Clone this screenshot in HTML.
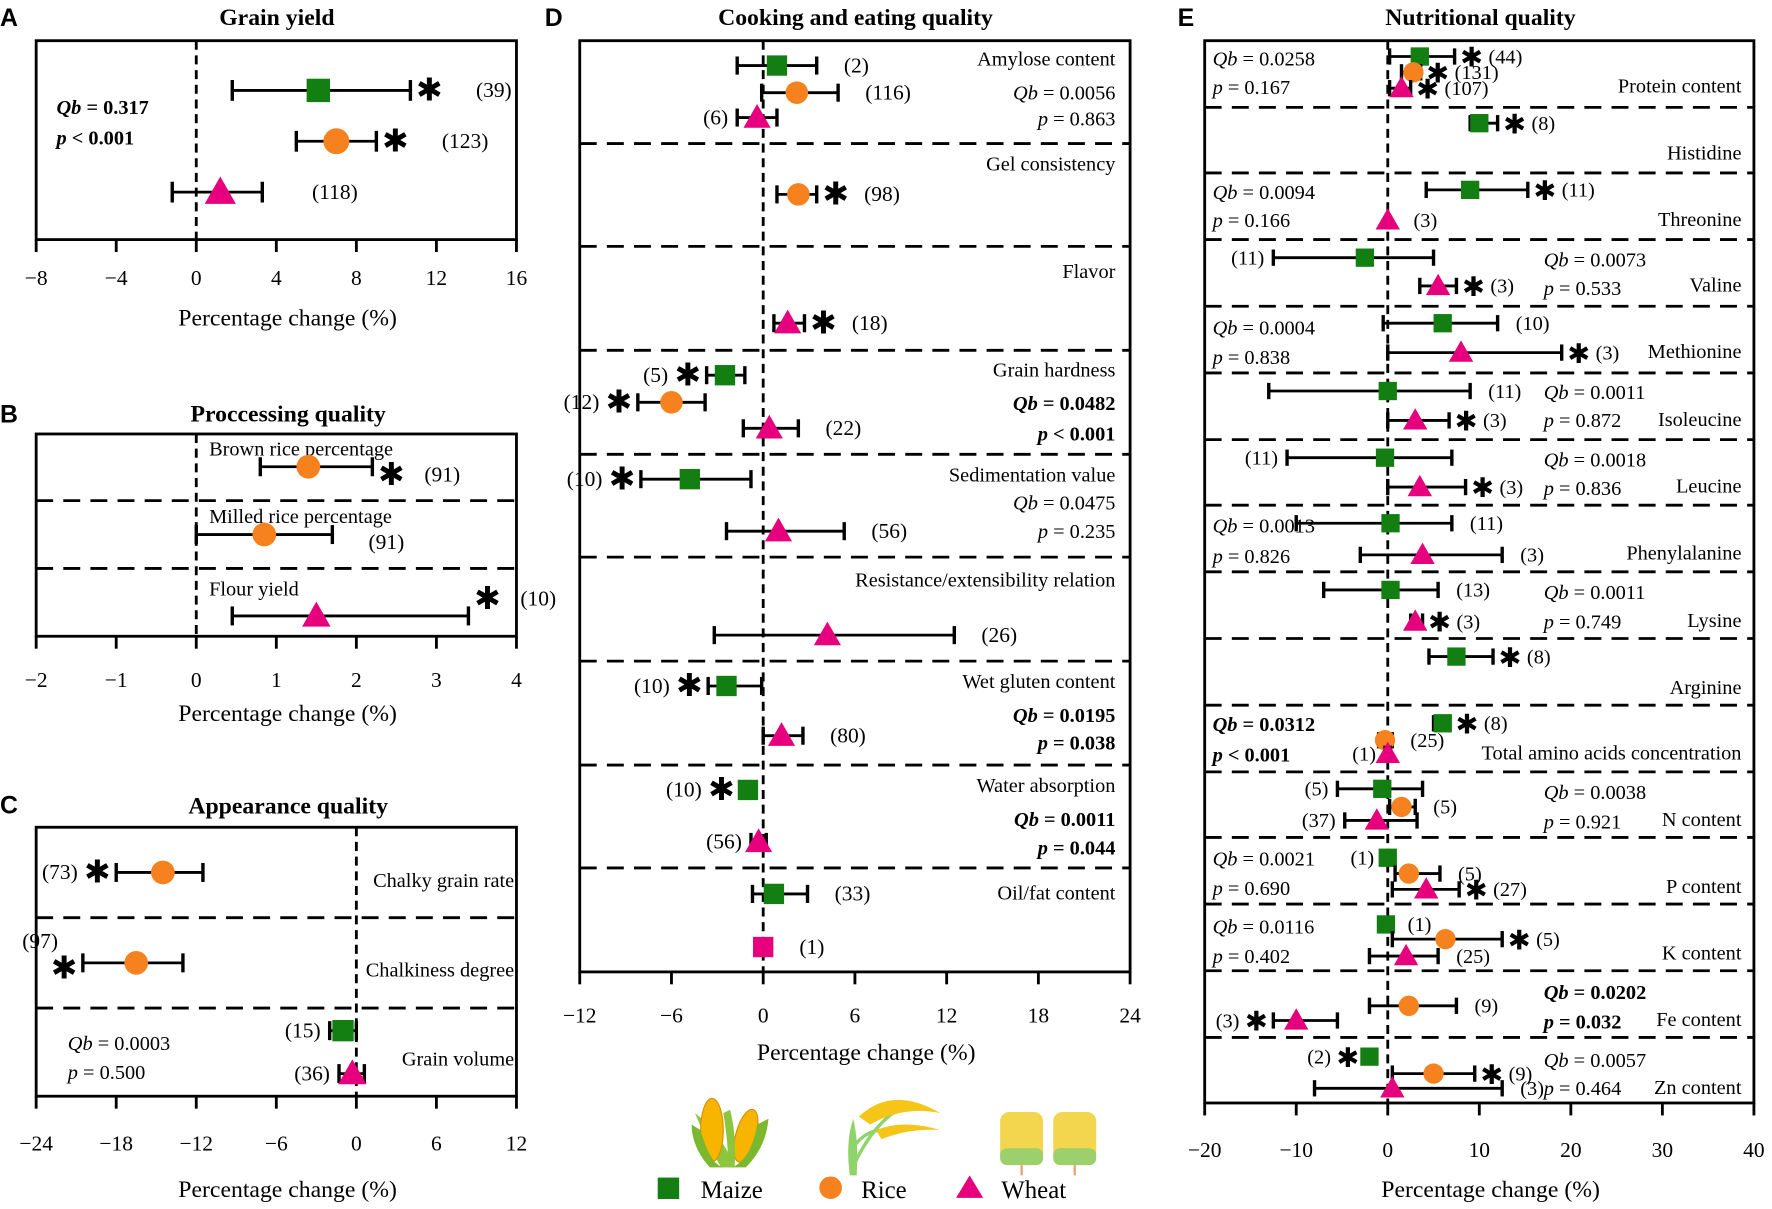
<!DOCTYPE html>
<html><head><meta charset="utf-8">
<style>
html,body{margin:0;padding:0;background:#fff;}
svg{display:block;font-family:"Liberation Serif",serif;}
</style></head>
<body>
<svg id="fig" xmlns="http://www.w3.org/2000/svg" width="1772" height="1209" viewBox="0 0 1568 1069.8">
<rect x="0" y="0" width="1568" height="1070" fill="#fff"/>
<g font-family="Liberation Sans, sans-serif" font-weight="bold" font-size="22">
<text x="0" y="23">A</text>
<text x="0" y="374">B</text>
<text x="0" y="720">C</text>
<text x="482" y="23">D</text>
<text x="1042" y="23">E</text>
</g>
<g font-weight="bold" font-size="21" text-anchor="middle">
<text x="245" y="22">Grain yield</text>
<text x="255" y="373">Proccessing quality</text>
<text x="255" y="720">Appearance quality</text>
<text x="757" y="22">Cooking and eating quality</text>
<text x="1310" y="22">Nutritional quality</text>
</g>
<g font-size="18">
<text x="50" y="101" font-weight="bold"><tspan font-style="italic">Qb</tspan> = 0.317</text>
<text x="50" y="128" font-weight="bold"><tspan font-style="italic">p</tspan> &lt; 0.001</text>
<text x="185" y="403">Brown rice percentage</text>
<text x="185" y="463">Milled rice percentage</text>
<text x="185" y="527">Flour yield</text>
<g text-anchor="end">
<text x="455" y="785">Chalky grain rate</text>
<text x="455" y="864">Chalkiness degree</text>
<text x="455" y="943">Grain volume</text>
</g>
<text x="60" y="929"><tspan font-style="italic">Qb</tspan> = 0.0003</text>
<text x="60" y="955"><tspan font-style="italic">p</tspan> = 0.500</text>
<g text-anchor="end">
<text x="987" y="58">Amylose content</text>
<text x="987" y="88"><tspan font-style="italic">Qb</tspan> = 0.0056</text>
<text x="987" y="111"><tspan font-style="italic">p</tspan> = 0.863</text>
<text x="987" y="151">Gel consistency</text>
<text x="987" y="246">Flavor</text>
<text x="987" y="333">Grain hardness</text>
<text x="987" y="363" font-weight="bold"><tspan font-style="italic">Qb</tspan> = 0.0482</text>
<text x="987" y="390" font-weight="bold"><tspan font-style="italic">p</tspan> &lt; 0.001</text>
<text x="987" y="426">Sedimentation value</text>
<text x="987" y="451"><tspan font-style="italic">Qb</tspan> = 0.0475</text>
<text x="987" y="476"><tspan font-style="italic">p</tspan> = 0.235</text>
<text x="987" y="519">Resistance/extensibility relation</text>
<text x="987" y="609">Wet gluten content</text>
<text x="987" y="639" font-weight="bold"><tspan font-style="italic">Qb</tspan> = 0.0195</text>
<text x="987" y="663" font-weight="bold"><tspan font-style="italic">p</tspan> = 0.038</text>
<text x="987" y="701">Water absorption</text>
<text x="987" y="731" font-weight="bold"><tspan font-style="italic">Qb</tspan> = 0.0011</text>
<text x="987" y="756" font-weight="bold"><tspan font-style="italic">p</tspan> = 0.044</text>
<text x="987" y="796">Oil/fat content</text>
</g>
<g text-anchor="end">
<text x="1541" y="82">Protein content</text>
<text x="1541" y="141">Histidine</text>
<text x="1541" y="200">Threonine</text>
<text x="1541" y="258">Valine</text>
<text x="1541" y="317">Methionine</text>
<text x="1541" y="377">Isoleucine</text>
<text x="1541" y="436">Leucine</text>
<text x="1541" y="495">Phenylalanine</text>
<text x="1541" y="555">Lysine</text>
<text x="1541" y="614">Arginine</text>
<text x="1541" y="672">Total amino acids concentration</text>
<text x="1541" y="731">N content</text>
<text x="1541" y="790">P content</text>
<text x="1541" y="849">K content</text>
<text x="1541" y="908">Fe content</text>
<text x="1541" y="968">Zn content</text>
</g>
<g>
<text x="1073" y="58"><tspan font-style="italic">Qb</tspan> = 0.0258</text>
<text x="1073" y="83"><tspan font-style="italic">p</tspan> = 0.167</text>
<text x="1073" y="176"><tspan font-style="italic">Qb</tspan> = 0.0094</text>
<text x="1073" y="201"><tspan font-style="italic">p</tspan> = 0.166</text>
<text x="1366" y="236"><tspan font-style="italic">Qb</tspan> = 0.0073</text>
<text x="1366" y="261"><tspan font-style="italic">p</tspan> = 0.533</text>
<text x="1073" y="296"><tspan font-style="italic">Qb</tspan> = 0.0004</text>
<text x="1073" y="322"><tspan font-style="italic">p</tspan> = 0.838</text>
<text x="1366" y="353"><tspan font-style="italic">Qb</tspan> = 0.0011</text>
<text x="1366" y="378"><tspan font-style="italic">p</tspan> = 0.872</text>
<text x="1366" y="413"><tspan font-style="italic">Qb</tspan> = 0.0018</text>
<text x="1366" y="438"><tspan font-style="italic">p</tspan> = 0.836</text>
<text x="1073" y="471"><tspan font-style="italic">Qb</tspan> = 0.0013</text>
<text x="1073" y="498"><tspan font-style="italic">p</tspan> = 0.826</text>
<text x="1366" y="530"><tspan font-style="italic">Qb</tspan> = 0.0011</text>
<text x="1366" y="556"><tspan font-style="italic">p</tspan> = 0.749</text>
<text x="1073" y="647" font-weight="bold"><tspan font-style="italic">Qb</tspan> = 0.0312</text>
<text x="1073" y="674" font-weight="bold"><tspan font-style="italic">p</tspan> &lt; 0.001</text>
<text x="1366" y="707"><tspan font-style="italic">Qb</tspan> = 0.0038</text>
<text x="1366" y="733"><tspan font-style="italic">p</tspan> = 0.921</text>
<text x="1073" y="766"><tspan font-style="italic">Qb</tspan> = 0.0021</text>
<text x="1073" y="792"><tspan font-style="italic">p</tspan> = 0.690</text>
<text x="1073" y="826"><tspan font-style="italic">Qb</tspan> = 0.0116</text>
<text x="1073" y="852"><tspan font-style="italic">p</tspan> = 0.402</text>
<text x="1366" y="884" font-weight="bold"><tspan font-style="italic">Qb</tspan> = 0.0202</text>
<text x="1366" y="910" font-weight="bold"><tspan font-style="italic">p</tspan> = 0.032</text>
<text x="1366" y="944"><tspan font-style="italic">Qb</tspan> = 0.0057</text>
<text x="1366" y="969"><tspan font-style="italic">p</tspan> = 0.464</text>
</g>
</g>
<g>
<path d="M615 985 Q625 1010 638 1033 L650 1033 Q640 1005 615 985Z" fill="#8cc63f"/>
<ellipse cx="630" cy="1000" rx="10" ry="28" fill="#f7b500" stroke="#d89000"/>
<ellipse cx="660" cy="1005" rx="9" ry="24" fill="#f7b500" stroke="#d89000" transform="rotate(15 660 1005)"/>
<path d="M620 1000 Q628 1030 640 1033 L628 1033 Q612 1015 612 995Z" fill="#7cb82f"/>
<path d="M670 995 Q665 1025 648 1033 L660 1033 Q678 1015 680 990Z" fill="#7cb82f"/>
<path d="M640 985 Q645 1015 644 1033 L650 1033 Q652 1005 646 982Z" fill="#8cc63f"/>
</g>
<g>
<path d="M752 1040 Q748 1010 755 990 Q760 1010 758 1040Z" fill="#8fd46b"/>
<path d="M756 1030 Q770 1000 790 985" stroke="#8fd46b" stroke-width="3" fill="none"/>
<path d="M755 1015 Q770 995 790 1002" stroke="#8fd46b" stroke-width="3" fill="none"/>
<path d="M760 988 Q790 960 832 985 Q800 978 770 995Z" fill="#f5c518"/>
<path d="M775 1000 Q800 990 832 1000 Q805 998 780 1008Z" fill="#f5c518"/>
</g>
<g>
<rect x="885" y="984" width="38" height="45" rx="8" fill="#f3d54e"/>
<rect x="932" y="984" width="38" height="45" rx="8" fill="#f3d54e"/>
<rect x="885" y="1016" width="38" height="15" rx="6" fill="#9bd06c"/>
<rect x="932" y="1016" width="38" height="15" rx="6" fill="#9bd06c"/>
<line x1="904" y1="1031" x2="904" y2="1040" stroke="#e8a070" stroke-width="2"/>
<line x1="951" y1="1031" x2="951" y2="1040" stroke="#e8a070" stroke-width="2"/>
</g>
<g font-size="22">
<rect x="582" y="1042" width="19" height="19" fill="#137f13"/>
<text x="620" y="1060">Maize</text>
<circle cx="735" cy="1051" r="10" fill="#f5821f"/>
<text x="762" y="1060">Rice</text>
<polygon points="858,1040 870,1060 846,1060" fill="#e6007e"/>
<text x="886" y="1060">Wheat</text>
</g>
<g id="plots"></g>
</svg>
<script>
// ---------- data ----------
const aCrop=['M','R','W'];
const aMean=[6.1,7.0,1.2];
const aLow=[1.8,5.0,-1.2];
const aHigh=[10.7,9.0,3.3];
const aN=[39,123,118];
const aSig=[1,1,0];
const aTicks=[-8,-4,0,4,8,12,16];
const bCrop=['R','R','W'];
const bMean=[1.4,0.85,1.5];
const bLow=[0.8,0.0,0.45];
const bHigh=[2.2,1.7,3.4];
const bN=[91,91,10];
const bSig=[1,0,1];
const bTicks=[-2,-1,0,1,2,3,4];
const cCrop=['R','R','M','W'];
const cMean=[-14.5,-16.5,-1.0,-0.3];
const cLow=[-18,-20.5,-2.0,-1.3];
const cHigh=[-11.5,-13,0.0,0.6];
const cN=[73,97,15,36];
const cSig=[1,1,0,0];
const cTicks=[-24,-18,-12,-6,0,6,12];
const dCrop=['M','R','W','R','W','M','R','W','M','W','W','M','W','M','W','M','P'];
const dMean=[0.9,2.2,-0.4,2.3,1.6,-2.5,-6,0.4,-4.8,1.0,4.2,-2.4,1.2,-1.0,-0.3,0.7,0];
const dLow=[-1.7,-0.1,-1.7,0.9,0.7,-3.7,-8.2,-1.3,-8,-2.4,-3.2,-3.6,0,-1.5,-0.8,-0.7,0];
const dHigh=[3.5,4.9,0.9,3.5,2.7,-1.2,-3.8,2.3,-0.8,5.3,12.5,-0.1,2.6,-0.5,0.2,2.9,0];
const dN=[2,116,6,98,18,5,12,22,10,56,26,10,80,10,56,33,1];
const dSig=[0,0,0,1,1,1,1,0,1,0,0,1,0,1,0,0,0];
const dTicks=[-12,-6,0,6,12,18,24];
const eCrop=['M','R','W','M','M','W','M','W','M','W','M','W','M','W','M','W','M','W','M','M','R','W','M','R','W','M','R','W','M','R','W','R','W','M','R','W'];
const eMean=[3.5,2.8,1.5,10,9,0,-2.5,5.5,6,8,0,3,-0.3,3.5,0.3,3.8,0.3,3,7.5,6,-0.3,0,-0.6,1.5,-1.2,0,2.3,4.2,-0.2,6.3,2,2.3,-10,-2,5,0.5];
const eLow=[0.2,1.5,0.2,9,4.2,0,-12.5,3.5,-0.5,0,-13,0,-11,0,-10,-3,-7,2.5,4.5,5,-1,-0.3,-5.5,0.2,-4.7,-0.5,0.8,0.5,-0.5,0.5,-2,-2,-12.5,-2.5,0.5,-8];
const eHigh=[7.3,3.6,2.5,12,15.3,0,5,7.5,12,19,9,6.7,7,8.5,7,12.5,5.5,3.8,11.5,6.8,0.5,0.3,3.8,3,3.2,0.4,5.7,7.8,0.2,12.5,5.5,7.5,-5.5,-1.3,9.5,12.5];
const eN=[44,131,107,8,11,3,11,3,10,3,11,3,11,3,11,3,13,3,8,8,25,1,5,5,37,1,5,27,1,5,25,9,3,2,9,3];
const eSig=[1,1,1,1,1,0,0,1,0,1,0,1,0,1,0,0,0,1,1,1,0,0,0,0,0,0,0,1,0,1,0,0,1,1,1,0];
const eTicks=[-20,-10,0,10,20,30,40];

// ---------- layout ----------
const panels=[
 {id:'a',x0:32,x1:457,y0:36,y1:212,min:-8,max:16,ticks:aTicks,crop:aCrop,mean:aMean,lo:aLow,hi:aHigh,n:aN,sig:aSig,
  rowY:[80,125,170],side:'rrr',labY:[80,125,170],starGap:26,nGap:30,ms:1.15,dashes:[],tickY:252,titleY:288},
 {id:'b',x0:32,x1:457,y0:384,y1:563,min:-2,max:4,ticks:bTicks,crop:bCrop,mean:bMean,lo:bLow,hi:bHigh,n:bN,sig:bSig,
  rowY:[413,473,545],side:'rrr',labY:[420,480,530],starGap:14,nGap:18,ms:1.05,dashes:[443,503],tickY:608,titleY:638},
 {id:'c',x0:32,x1:457,y0:732,y1:970,min:-24,max:12,ticks:cTicks,crop:cCrop,mean:cMean,lo:cLow,hi:cHigh,n:cN,sig:cSig,
  rowY:[772,852,912,950],side:'llll',labY:[772,857,912,950],starGap:10,nGap:14,ms:1.05,dashes:[812,892],tickY:1018,titleY:1059},
 {id:'d',x0:513,x1:1000,y0:36,y1:860,min:-12,max:24,ticks:dTicks,crop:dCrop,mean:dMean,lo:dLow,hi:dHigh,n:dN,sig:dSig,
  rowY:[58,82,104,172,286,332,356,379,424,470,562,607,651,699,745,791,838],side:'rrlrrllrlrrlrllrr',
  labY:[58,82,104,172,286,332,356,379,424,470,562,607,651,699,745,791,838],starGap:10,nGap:10,ms:1.0,
  dashes:[127,218,310,402,493,585,677,768],tickY:905,titleY:938},
 {id:'e',x0:1066,x1:1552,y0:36,y1:976,min:-20,max:40,ticks:eTicks,crop:eCrop,mean:eMean,lo:eLow,hi:eHigh,n:eN,sig:eSig,
  rowY:[50,64,78,109,168,195,228,253,286,312,346,372,405,431,463,491,522,550,581,640,655,667,698,714,726,759,773,787,818,831,846,890,903,935,950,963],
  side:'rrrrrrlrrrrrlrrrrrrrrllrllrrrrrrllrr',
  labY:[50,64,78,109,168,195,228,253,286,312,346,372,405,431,463,491,522,550,581,640,655,667,698,714,726,759,773,787,818,831,846,890,903,935,950,963],
  starGap:2,nGap:2,ms:0.9,dashes:[95,153,212,271,330,389,447,506,565,624,683,741,800,859,918],tickY:1024,titleY:1059}
];
const colors={M:'#137f13',R:'#f5821f',W:'#e6007e',P:'#e6007e'};
const NS='http://www.w3.org/2000/svg';
const root=document.getElementById('plots');
function mk(tag,attrs,parent){const e=document.createElementNS(NS,tag);for(const k in attrs)e.setAttribute(k,attrs[k]);(parent||root).appendChild(e);return e;}

panels.forEach(p=>{
  const X=v=>p.x0+(v-p.min)/(p.max-p.min)*(p.x1-p.x0);
  const g=mk('g',{});
  
  
  p.dashes.forEach(y=>{
    const l=mk('line',{x1:p.x0,x2:p.x1,y1:y,y2:y,stroke:'#000','stroke-width':2.5,'stroke-dasharray':'15 9'},g);
    
    
  });
  const z=mk('line',{x1:X(0),x2:X(0),y1:p.y0,y2:p.y1,stroke:'#000','stroke-width':2.5,'stroke-dasharray':'8 5'},g);
  
  
  const b=mk('rect',{x:p.x0,y:p.y0,width:p.x1-p.x0,height:p.y1-p.y0,fill:'none',stroke:'#000','stroke-width':2.5},g);
  
  
  p.ticks.forEach(t=>{
    const tl=mk('line',{x1:X(t),x2:X(t),y1:p.y1,y2:p.y1+11,stroke:'#000','stroke-width':2.5},g);
    
    
    const tx=mk('text',{x:X(t),y:p.tickY,'text-anchor':'middle','font-size':19},g);
    tx.textContent=(t<0?'\u2212'+(-t):''+t);
    
    
  });
  const at=mk('text',{x:(p.x0+p.x1)/2+10,y:p.titleY,'text-anchor':'middle','font-size':21},g);
  at.textContent='Percentage change (%)';
  
  
  p.mean.forEach((m,i)=>{
    const y=p.rowY[i], xl=X(p.lo[i]), xh=X(p.hi[i]), xm=X(m);
    const c=p.crop[i]; const s=p.ms;
    const er=mk('g',{},g);
    
    
    if(p.hi[i]>p.lo[i]){
      mk('line',{x1:xl,x2:xh,y1:y,y2:y,stroke:'#000','stroke-width':2.5},er);
      mk('line',{x1:xl,x2:xl,y1:y-8*s,y2:y+8*s,stroke:'#000','stroke-width':3},er);
      mk('line',{x1:xh,x2:xh,y1:y-8*s,y2:y+8*s,stroke:'#000','stroke-width':3},er);
    }
    let mark;
    if(c==='M'||c==='P') mark=mk('rect',{x:xm-9*s,y:y-9*s,width:18*s,height:18*s,fill:colors[c]},g);
    else if(c==='R') mark=mk('circle',{cx:xm,cy:y,r:10*s,fill:colors[c]},g);
    else mark=mk('polygon',{points:`${xm},${y-12*s} ${xm+12*s},${y+9*s} ${xm-12*s},${y+9*s}`,fill:colors[c]},g);
    
    
    const ly=p.labY[i]+6;
    const right=p.side[i]!=='l';
    const fs=p.id==='e'?18:19;
    const sfs=p.id==='e'?24:28;
    if(right){
      let x=xh+(p.hi[i]>p.lo[i]?4:12*s);
      if(p.sig[i]){
        const st=mk('text',{x:x+1,y:ly+3,'font-size':sfs,'font-family':'DejaVu Sans, sans-serif'},g);
        st.textContent='\u2731';
        
        
        x+=p.starGap+sfs;
      } else x+=p.nGap+10;
      const nt=mk('text',{x:x,y:ly,'font-size':fs},g);
      nt.textContent='('+p.n[i]+')';
      
      
    } else {
      let x=xl-(p.hi[i]>p.lo[i]?4:12*s);
      if(p.sig[i]){
        const st=mk('text',{x:x-1,y:ly+3,'font-size':sfs,'text-anchor':'end','font-family':'DejaVu Sans, sans-serif'},g);
        st.textContent='\u2731';
        
        
        x-=sfs+2;
      } else x-=4;
      const isC1=(p.id==='c'&&i===1);
      const nt=mk('text',{x:isC1?x+12:x,y:isC1?839:ly,'text-anchor':'end','font-size':fs},g);
      nt.textContent='('+p.n[i]+')';
      
      
    }
  });
});
</script>
</body></html>
